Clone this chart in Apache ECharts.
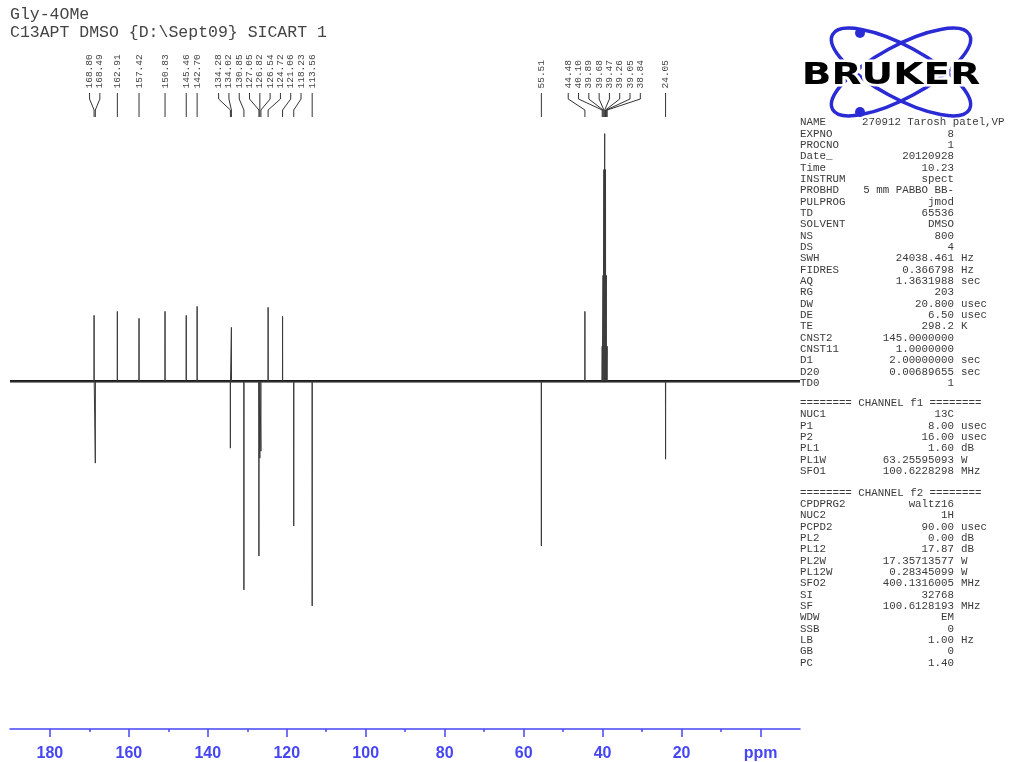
<!DOCTYPE html>
<html><head><meta charset="utf-8">
<script src="https://cdn.jsdelivr.net/npm/echarts@6/dist/echarts.min.js"></script>
<style>html,body{margin:0;padding:0;background:#fff}#c{width:1009px;height:762px}</style>
</head><body><div id="c"></div>
<script>
// ---------------- data ----------------
const titleLines = ['Gly-4OMe', 'C13APT DMSO {D:\\Sept09} SICART 1'];
const peakPpm = [168.80, 168.49, 162.91, 157.42, 150.83, 145.46, 142.70,
  134.28, 134.02, 130.85, 127.05, 126.82, 126.54, 124.72, 121.06, 118.23, 113.56,
  55.51, 44.48, 40.10, 39.89, 39.68, 39.47, 39.26, 39.05, 38.84, 24.05];
const peakIntensity = [66, -82, 70, 63, 70, 66, 75,
  -67, 54, -209, -175, -77, -70, 74, 65, -145, -225,
  -165, 70, 35, 106, 212, 248, 212, 106, 35, -78];
const majorTicks = [180, 160, 140, 120, 100, 80, 60, 40, 20, 0];
const minorTicks = [170, 150, 130, 110, 90, 70, 50, 30, 10];
const unitLabel = 'ppm';
const paramNames = ['NAME','EXPNO','PROCNO','Date_','Time','INSTRUM','PROBHD','PULPROG','TD','SOLVENT','NS','DS','SWH','FIDRES','AQ','RG','DW','DE','TE','CNST2','CNST11','D1','D20','TD0'];
const paramValues = ['270912 Tarosh patel,VP','8','1','20120928','10.23','spect','5 mm PABBO BB-','jmod','65536','DMSO','800','4','24038.461','0.366798','1.3631988','203','20.800','6.50','298.2','145.0000000','1.0000000','2.00000000','0.00689655','1'];
const paramUnits = ['','','','','','','','','','','','','Hz','Hz','sec','','usec','usec','K','','','sec','sec',''];
const ch1Header = '======== CHANNEL f1 ========';
const ch1Names = ['NUC1','P1','P2','PL1','PL1W','SFO1'];
const ch1Values = ['13C','8.00','16.00','1.60','63.25595093','100.6228298'];
const ch1Units = ['','usec','usec','dB','W','MHz'];
const ch2Header = '======== CHANNEL f2 ========';
const ch2Names = ['CPDPRG2','NUC2','PCPD2','PL2','PL12','PL2W','PL12W','SFO2','SI','SF','WDW','SSB','LB','GB','PC'];
const ch2Values = ['waltz16','1H','90.00','0.00','17.87','17.35713577','0.28345099','400.1316005','32768','100.6128193','EM','0','1.00','0','1.40'];
const ch2Units = ['','','usec','dB','dB','W','W','MHz','','MHz','','','Hz','',''];
const logoText = 'BRUKER';

// ---------------- chart ----------------
const xMin = -10, xMax = 190.1;
const blue = '#4646f5';
const mono = '"Liberation Mono", "DejaVu Sans Mono", monospace';

const W = 0.03;
const order = peakPpm.map((p, i) => i).sort((a, b) => peakPpm[b] - peakPpm[a]);
const spec = [[xMax, 0]];
order.forEach(i => {
  spec.push([peakPpm[i] + W, 0], [peakPpm[i], peakIntensity[i]], [peakPpm[i] - W, 0]);
});
spec.push([xMin, 0]);

const chart = echarts.init(document.getElementById('c'), null, {renderer: 'canvas'});
const axisCommon = {
  type: 'value', inverse: true, min: xMin, max: xMax, position: 'bottom',
  splitLine: {show: false}
};
chart.setOption({
  animation: false,
  backgroundColor: '#fff',
  grid: {left: 10, right: 209, top: 100, bottom: 32, containLabel: false},
  xAxis: [
    Object.assign({}, axisCommon, {
      axisLine: {show: true, onZero: false, lineStyle: {color: blue, width: 1.5}},
      axisTick: {show: true, customValues: majorTicks, length: 8, inside: false, lineStyle: {color: blue, width: 1.5}},
      axisLabel: {show: true, customValues: majorTicks, margin: 17, color: blue,
        fontFamily: '"Liberation Sans", Arial, sans-serif', fontWeight: 'bold', fontSize: 16,
        formatter: v => (v === 0 ? unitLabel : String(v))}
    }),
    Object.assign({}, axisCommon, {
      axisLine: {show: false, onZero: false},
      axisTick: {show: true, customValues: minorTicks, length: 3, lineStyle: {color: blue, width: 1.5}},
      axisLabel: {show: false}
    })
  ],
  yAxis: {type: 'value', min: -348.3, max: 281.7, show: false},
  series: [
    {type: 'line', xAxisIndex: 0, data: [[xMax, 0], [xMin, 0]], symbol: 'none',
      lineStyle: {color: '#111', width: 2.6}, z: 1, silent: true},
    {type: 'line', xAxisIndex: 0, data: spec, symbol: 'none', sampling: null,
      lineStyle: {color: '#3a3a3a', width: 1}, z: 2, silent: true}
  ]
});

// ---------------- graphic overlays ----------------
const g = [];
titleLines.forEach((t, i) => {
  g.push({type: 'text', x: 10, y: 15 + i * 17.5, silent: true,
    style: {text: t, font: '16.5px ' + mono, fill: '#444', verticalAlign: 'middle', align: 'left'}});
});

// peak labels with leader lines
const px = peakPpm.map(p => chart.convertToPixel({xAxisIndex: 0}, p));
const idxAsc = px.map((x, i) => i).sort((a, b) => px[a] - px[b]);
const gap = 10.3;
function median(a) { const s = a.slice().sort((m, n) => m - n); const k = s.length; return k % 2 ? s[(k - 1) / 2] : (s[k / 2 - 1] + s[k / 2]) / 2; }
let clusters = idxAsc.map(i => ({idx: [i], center: px[i]}));
let changed = true;
while (changed) {
  changed = false;
  for (let i = 0; i < clusters.length - 1; i++) {
    const a = clusters[i], b = clusters[i + 1];
    const aRight = a.center + (a.idx.length - 1) * gap / 2;
    const bLeft = b.center - (b.idx.length - 1) * gap / 2;
    if (bLeft - aRight < gap) {
      const idx = a.idx.concat(b.idx);
      clusters.splice(i, 2, {idx, center: median(idx.map(k => px[k]))});
      changed = true; break;
    }
  }
}
const labelX = [];
clusters.forEach(c => {
  const n = c.idx.length;
  c.idx.forEach((k, j) => { labelX[k] = c.center + (j - (n - 1) / 2) * gap; });
});
peakPpm.forEach((p, i) => {
  const lx = labelX[i], x = px[i];
  g.push({type: 'text', x: lx, y: 88.5, rotation: Math.PI / 2, silent: true,
    style: {text: p.toFixed(2), font: '9.5px ' + mono, fill: '#444', align: 'left', verticalAlign: 'middle'}});
  g.push({type: 'polyline', silent: true,
    shape: {points: [[lx, 93], [lx, 99], [x, 110], [x, 117]]},
    style: {stroke: '#333', lineWidth: 1, fill: null}});
});

// Bruker logo
const logoBlue = '#2b2bd6';
g.push({type: 'ellipse', x: 901, y: 72, rotation: 0.5, silent: true,
  shape: {cx: 0, cy: 0, rx: 78, ry: 26}, style: {fill: null, stroke: logoBlue, lineWidth: 3.5}});
g.push({type: 'ellipse', x: 901, y: 72, rotation: -0.5, silent: true,
  shape: {cx: 0, cy: 0, rx: 78, ry: 26}, style: {fill: null, stroke: logoBlue, lineWidth: 3.5}});
g.push({type: 'circle', silent: true, shape: {cx: 860, cy: 33, r: 5}, style: {fill: logoBlue}});
g.push({type: 'circle', silent: true, shape: {cx: 860, cy: 112, r: 5}, style: {fill: logoBlue}});
g.push({type: 'text', x: 891, y: 76, scaleX: 1.3, silent: true,
  style: {text: logoText, font: 'bold 30px "DejaVu Sans", sans-serif', fill: '#000',
    stroke: '#fff', lineWidth: 5, align: 'center', verticalAlign: 'middle'}});

// parameter panel
const nameX = 800, valRight = 954, unitX = 961, step = 11.33;
const pFont = '10.8px ' + mono, pCol = '#3a3a3a';
function row(name, value, unit, y, leftValue) {
  g.push({type: 'text', x: nameX, y, silent: true, style: {text: name, font: pFont, fill: pCol, align: 'left', verticalAlign: 'middle'}});
  if (leftValue) {
    g.push({type: 'text', x: 862, y, silent: true, style: {text: value, font: pFont, fill: pCol, align: 'left', verticalAlign: 'middle'}});
  } else {
    g.push({type: 'text', x: valRight, y, silent: true, style: {text: value, font: pFont, fill: pCol, align: 'right', verticalAlign: 'middle'}});
  }
  if (unit) g.push({type: 'text', x: unitX, y, silent: true, style: {text: unit, font: pFont, fill: pCol, align: 'left', verticalAlign: 'middle'}});
}
paramNames.forEach((n, i) => row(n, paramValues[i], paramUnits[i], 122.5 + i * step, i === 0));
g.push({type: 'text', x: nameX, y: 403, silent: true, style: {text: ch1Header, font: pFont, fill: pCol, align: 'left', verticalAlign: 'middle'}});
ch1Names.forEach((n, i) => row(n, ch1Values[i], ch1Units[i], 414.5 + i * step, false));
g.push({type: 'text', x: nameX, y: 493, silent: true, style: {text: ch2Header, font: pFont, fill: pCol, align: 'left', verticalAlign: 'middle'}});
ch2Names.forEach((n, i) => row(n, ch2Values[i], ch2Units[i], 504.3 + i * step, false));

chart.setOption({graphic: g});
</script></body></html>
